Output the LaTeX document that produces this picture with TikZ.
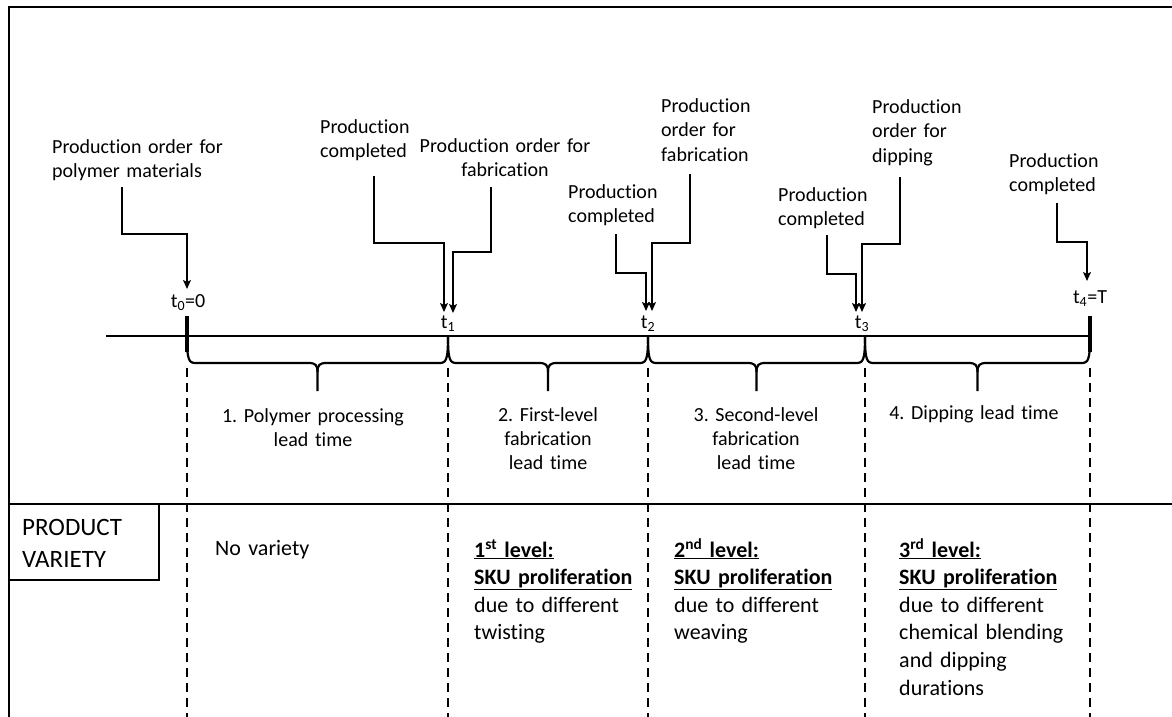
\documentclass[tikz,border=0pt]{standalone}
\usepackage{fontspec}
\setmainfont{Carlito}[Ligatures=NoCommon]
\frenchspacing
\usetikzlibrary{arrows.meta}
\begin{document}
\begin{tikzpicture}[x=1pt,y=-1pt,
  lblL/.style={inner sep=0pt, anchor=base west, align=left, text width=#1, font=\fontsize{20}{24.5}\selectfont},
  lblC/.style={inner sep=0pt, anchor=base, align=center, text width=#1, font=\fontsize{20}{24}\selectfont},
  vtxt/.style={inner sep=0pt, anchor=base west, align=left, text width=200pt, font=\fontsize{22}{27.6}\selectfont},
  tlab/.style={inner sep=0pt, anchor=base, font=\fontsize{20}{24}\selectfont},
  arr/.style={draw, line width=1.3pt, -{Stealth[length=9pt,width=8pt,inset=2pt]}},
  brc/.style={draw, line width=2.2pt},
  vdash/.style={draw, line width=2.4pt, dash pattern=on 9pt off 6pt},
  thin/.style={draw, line width=1.4pt}]
\useasboundingbox (0,0) rectangle (1172,717);
% frame
\draw[thin] (1172,7) -- (9,7) -- (9,717);
% separator and box
\draw[line width=1.9pt] (9,504) -- (1172,504);
\draw[thin] (9,504) rectangle (159,580);
\node[inner sep=0pt, anchor=base west, align=left, text width=140pt, font=\fontsize{25}{32}\selectfont] (pv) at (22,535) {PRODUCT\\VARIETY};
% time points
\coordinate (t0) at (187,336);
\coordinate (t1) at (448,336);
\coordinate (t2) at (648,336);
\coordinate (t3) at (865,336);
\coordinate (t4) at (1090,336);
\coordinate (tl) at (106,336);
% timeline
\draw[line width=2.2pt] (tl) -- (t4);
\draw[line width=4pt] (187,316) -- (187,352);
\draw[line width=4pt] (1090,316) -- (1090,352);
% dashed verticals
\foreach \x in {187,448,648,865,1090}{
  \draw[vdash] (\x,368) -- (\x,717);
}
% braces
\foreach \a/\b in {187/448,448/648,648/865,865/1090}{
  \pgfmathsetmacro\mm{(\a+\b)/2}
  \draw[brc] (\a,336) .. controls (\a,361) and ({\a+2},363) .. ({\a+9},363) -- ({\mm-9},363) .. controls ({\mm-2},363) and (\mm,365) .. (\mm,372) -- (\mm,391);
  \draw[brc] (\b,336) .. controls (\b,361) and ({\b-2},363) .. ({\b-9},363) -- ({\mm+9},363) .. controls ({\mm+2},363) and (\mm,365) .. (\mm,372);
}
% time labels
\node[tlab] (lt0) at (188,307) {t\textsubscript{0}=0};
\node[tlab] (lt1) at (448,328) {t\textsubscript{1}};
\node[tlab] (lt2) at (648,328) {t\textsubscript{2}};
\node[tlab] (lt3) at (862,328) {t\textsubscript{3}};
\node[tlab] (lt4) at (1090,303) {t\textsubscript{4}=T};
% top labels
\node[lblL=200pt] (L1) at (52,153) {Production order for\\polymer materials};
\node[lblL=120pt] (L2) at (320,133) {Production\\completed};
\node[lblC=200pt] (L3) at (505,152) {Production order for\\fabrication};
\node[lblL=120pt] (L4) at (568,198) {Production\\completed};
\node[lblL=120pt] (L5) at (661,112) {Production\\order for\\fabrication};
\node[lblL=120pt] (L6) at (778,201) {Production\\completed};
\node[lblL=120pt] (L7) at (872,113) {Production\\order for\\dipping};
\node[lblL=120pt] (L8) at (1009,167) {Production\\completed};
% connector ends
\coordinate (s1) at (122,187); \coordinate (e1) at (187,289);
\coordinate (s2) at (374,176); \coordinate (e2) at (444,312);
\coordinate (s3) at (491,187); \coordinate (e3) at (453,313);
\coordinate (s4) at (616,234); \coordinate (e4) at (646,311);
\coordinate (s5) at (690,174); \coordinate (e5) at (652,311);
\coordinate (s6) at (827,235); \coordinate (e6) at (856,312);
\coordinate (s7) at (900,177); \coordinate (e7) at (862,312);
\coordinate (s8) at (1057,203); \coordinate (e8) at (1087,281);
\draw[arr] (s1) -- (s1 |- 0,234) -| (e1);
\draw[arr] (s2) -- (s2 |- 0,243) -| (e2);
\draw[arr] (s3) -- (s3 |- 0,252) -| (e3);
\draw[arr] (s4) -- (s4 |- 0,273) -| (e4);
\draw[arr] (s5) -- (s5 |- 0,243) -| (e5);
\draw[arr] (s6) -- (s6 |- 0,274) -| (e6);
\draw[arr] (s7) -- (s7 |- 0,244) -| (e7);
\draw[arr] (s8) -- (s8 |- 0,242) -| (e8);
% brace labels
\node[lblC=220pt] (B1) at (313,422) {1. Polymer processing\\lead time};
\node[lblC=200pt] (B2) at (548,421) {2. First-level\\fabrication\\lead time};
\node[lblC=200pt] (B3) at (756,421) {3. Second-level\\fabrication\\lead time};
\node[lblC=220pt] (B4) at (974,419) {4. Dipping lead time};
% variety texts
\node[vtxt] (V0) at (215,555) {No variety};
\node[vtxt] (V1) at (474,557) {\textbf{\underline{1\textsuperscript{st} level:}}\\\textbf{\underline{SKU proliferation}}\\due to different\\twisting};
\node[vtxt] (V2) at (674,557) {\textbf{\underline{2\textsuperscript{nd} level:}}\\\textbf{\underline{SKU proliferation}}\\due to different\\weaving};
\node[vtxt] (V3) at (899,557) {\textbf{\underline{3\textsuperscript{rd} level:}}\\\textbf{\underline{SKU proliferation}}\\due to different\\chemical blending\\and dipping\\durations};
\end{tikzpicture}
\end{document}
